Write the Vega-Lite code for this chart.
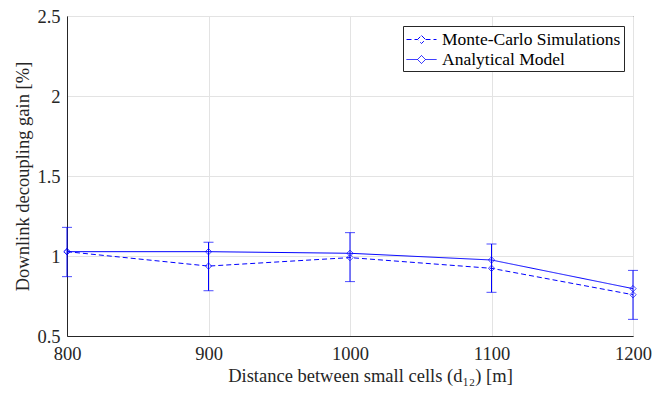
{
  "$schema": "https://vega.github.io/schema/vega-lite/v6.json",
  "width": 566,
  "height": 320,
  "autosize": {"type": "none"},
  "padding": {"left": 67, "top": 16, "right": 31, "bottom": 57},
  "background": "white",
  "config": {
    "font": "Liberation Serif",
    "view": {"stroke": "#262626", "strokeWidth": 1},
    "axis": {
      "labelFont": "Liberation Serif",
      "titleFont": "Liberation Serif",
      "labelFontSize": 18.5,
      "titleFontSize": 18.5,
      "titleFontWeight": "normal",
      "labelColor": "#262626",
      "titleColor": "#262626",
      "domainColor": "#262626",
      "gridColor": "#e3e3e3",
      "ticks": false,
      "labelFlush": false
    }
  },
  "data": {
    "values": [
      {"d": 800, "series": "Monte-Carlo Simulations", "g": 1.027, "lo": 0.871, "hi": 1.179},
      {"d": 900, "series": "Monte-Carlo Simulations", "g": 0.937, "lo": 0.783, "hi": 1.086},
      {"d": 1000, "series": "Monte-Carlo Simulations", "g": 0.99, "lo": 0.84, "hi": 1.146},
      {"d": 1100, "series": "Monte-Carlo Simulations", "g": 0.923, "lo": 0.773, "hi": 1.075},
      {"d": 1200, "series": "Monte-Carlo Simulations", "g": 0.758, "lo": 0.604, "hi": 0.91},
      {"d": 800, "series": "Analytical Model", "g": 1.027},
      {"d": 900, "series": "Analytical Model", "g": 1.027},
      {"d": 1000, "series": "Analytical Model", "g": 1.017},
      {"d": 1100, "series": "Analytical Model", "g": 0.975},
      {"d": 1200, "series": "Analytical Model", "g": 0.796}
    ]
  },
  "encoding": {
    "x": {
      "field": "d",
      "type": "quantitative",
      "scale": {"domain": [800, 1200], "nice": false, "zero": false, "padding": 0},
      "axis": {
        "values": [800, 900, 1000, 1100, 1200],
        "format": "d",
        "title": "Distance between small cells (d₁₂) [m]",
        "labelPadding": 8,
        "titlePadding": 4,
        "titleX": 303,
        "grid": true,
        "labelFont": "Liberation Serif",
        "titleFont": "Liberation Serif"
      }
    }
  },
  "layer": [
    {
      "transform": [{"filter": "datum.lo != null"}],
      "mark": {"type": "rule", "color": "blue", "strokeWidth": 1},
      "encoding": {
        "y": {"field": "lo", "type": "quantitative"},
        "y2": {"field": "hi"}
      }
    },
    {
      "transform": [{"filter": "datum.lo != null"}],
      "mark": {"type": "tick", "orient": "horizontal", "color": "blue", "size": 10, "thickness": 1},
      "encoding": {"y": {"field": "lo", "type": "quantitative"}}
    },
    {
      "transform": [{"filter": "datum.lo != null"}],
      "mark": {"type": "tick", "orient": "horizontal", "color": "blue", "size": 10, "thickness": 1},
      "encoding": {"y": {"field": "hi", "type": "quantitative"}}
    },
    {
      "mark": {"type": "line", "color": "blue", "strokeWidth": 1},
      "encoding": {
        "y": {
          "field": "g",
          "type": "quantitative",
          "scale": {"domain": [0.5, 2.5], "nice": false, "zero": false, "padding": 0},
          "axis": {
            "values": [0.5, 1, 1.5, 2, 2.5],
            "format": "~g",
            "title": "Downlink decoupling gain [%]",
            "labelPadding": 7,
            "titlePadding": 4,
            "grid": true,
            "labelFont": "Liberation Serif",
            "titleFont": "Liberation Serif"
          }
        },
        "strokeDash": {
          "field": "series",
          "type": "nominal",
          "scale": {"domain": ["Monte-Carlo Simulations", "Analytical Model"], "range": [[5, 3], [1, 0]]},
          "legend": {
            "title": null,
            "orient": "none",
            "legendX": 336,
            "legendY": 10,
            "symbolType": "M-1,0L0.1,0M0.9,0L2,0M0.5,-0.4L0.9,0L0.5,0.4L0.1,0Z",
            "symbolSize": 400,
            "symbolStrokeColor": "blue",
            "symbolStrokeWidth": 1,
            "symbolFillColor": "transparent",
            "labelFont": "Liberation Serif",
            "labelFontSize": 17.5,
            "labelColor": "black",
            "labelLimit": 400,
            "strokeColor": "#262626",
            "fillColor": "white",
            "padding": 3,
            "rowPadding": 1,
            "labelOffset": 15
          }
        }
      }
    },
    {
      "mark": {"type": "point", "shape": "diamond", "color": "blue", "filled": false, "size": 40, "strokeWidth": 1},
      "encoding": {"y": {"field": "g", "type": "quantitative"}}
    }
  ]
}
